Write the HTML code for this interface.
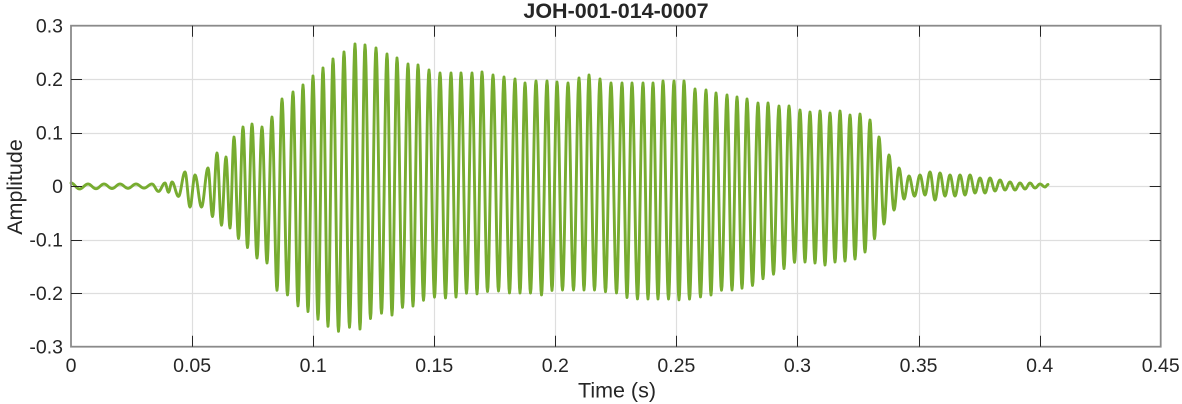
<!DOCTYPE html>
<html>
<head>
<meta charset="utf-8">
<style>
  html,body{margin:0;padding:0;background:#fff;}
  svg{display:block;}
  text{font-family:"Liberation Sans", Arial, sans-serif; fill:#262626;}
</style>
</head>
<body>
<svg id="chart" width="1182" height="404" viewBox="0 0 1182 404" xmlns="http://www.w3.org/2000/svg">
  <rect x="0" y="0" width="1182" height="404" fill="#fff"/>
  <g id="grid" stroke="#dedede" stroke-width="1.2" fill="none"></g>
  <path id="wave" fill="none" stroke="#77AC30" stroke-width="2.9" stroke-linejoin="round" stroke-linecap="round" d=""/>
  <rect x="71" y="25.7" width="1089.7" height="321" fill="none" stroke="#8a8a8a" stroke-width="1.8"/>
  <g id="ticks" stroke="#262626" stroke-width="1" fill="none"></g>
  <g id="labels" font-size="19.5"></g>
  <text x="616" y="18" font-size="21.5" font-weight="bold" text-anchor="middle">JOH-001-014-0007</text>
  <text x="617" y="397.5" font-size="21.5" text-anchor="middle">Time (s)</text>
  <text transform="translate(22,187) rotate(-90)" font-size="21.5" text-anchor="middle">Amplitude</text>
</svg>
<script>
(function(){
  var NS="http://www.w3.org/2000/svg";
  var X0=71, X1=1160.7, Y0=25.7, Y1=346.7;
  var grid=document.getElementById('grid'), ticks=document.getElementById('ticks'), labels=document.getElementById('labels');
  function line(g,x1,y1,x2,y2){var l=document.createElementNS(NS,'line');l.setAttribute('x1',x1);l.setAttribute('y1',y1);l.setAttribute('x2',x2);l.setAttribute('y2',y2);g.appendChild(l);}
  function txt(x,y,s,anchor){var t=document.createElementNS(NS,'text');t.setAttribute('x',x);t.setAttribute('y',y);t.setAttribute('text-anchor',anchor);t.textContent=s;labels.appendChild(t);}
  var xl=['0','0.05','0.1','0.15','0.2','0.25','0.3','0.35','0.4','0.45'];
  for(var i=0;i<10;i++){
    var x=X0+i*(X1-X0)/9; var xr=Math.round(x)+0.5;
    if(i>0&&i<9){line(grid,xr,Y0,xr,Y1);}
    if(i>0&&i<9){line(ticks,xr,Y1,xr,Y1-11);line(ticks,xr,Y0,xr,Y0+11);}
    txt(x,372,xl[i],'middle');
  }
  var yl=['0.3','0.2','0.1','0','-0.1','-0.2','-0.3'];
  for(var j=0;j<7;j++){
    var y=Y0+j*(Y1-Y0)/6; var yr=Math.round(y)+0.5;
    if(j>0&&j<6){line(grid,X0,yr,X1,yr);line(ticks,X0,yr,X0+11,yr);line(ticks,X1,yr,X1-11,yr);}
    txt(63,y+7,yl[j],'end');
  }
  var tops=[[71,183],[88,184],[104,184],[120,184],[136,184],[152,184],[165,183],[172,182],[185,172],[195,175],[208,168],[217,153],[226,157],[234,137],[243,127],[252,124],[262,127],[272,117],[282,99],[293,92],[303,85],[313,76],[323,68],[333,59],[344,52],[355,44],[365,45],[376,48],[387,54],[397,58],[408,64],[418,65],[429,70],[440,73],[451,73],[461,73],[472,73],[482,72],[493,75],[504,77],[515,79],[525,83],[536,81],[547,81],[557,82],[568,83],[579,78],[589,75],[600,79],[611,83],[622,83],[632,83],[643,83],[653,83],[663,81],[674,81],[684,81],[695,89],[706,90],[716,93],[727,95],[737,97],[747,99],[758,103],[768,103],[779,106],[789,106],[800,110],[810,112],[820,111],[830,113],[840,111],[850,115],[860,114],[870,120],[879,137],[889,155],[899,168],[909,176],[920,175],[930,172],[940,173],[950,175],[960,175],[970,175],[980,178],[990,178],[1000,180],[1010,182],[1020,183],[1030,183],[1040,184]];
  var bots=[[71,186],[76,189],[150,188],[160,192],[168,192],[180,197],[190,207],[203,207],[213,217],[221,225],[230,228],[238,238],[248,248],[257,258],[267,263],[278,293],[288,295],[299,307],[309,312],[319,320],[329,327],[340,332],[350,327],[360,329],[371,318],[382,313],[392,315],[403,307],[413,306],[424,300],[435,297],[446,298],[457,297],[467,293],[478,294],[489,291],[500,291],[510,293],[522,293],[532,293],[542,295],[553,290],[564,290],[574,290],[585,290],[596,290],[607,292],[617,293],[628,298],[638,299],[648,299],[659,299],[670,299],[680,300],[690,299],[700,297],[711,295],[722,290],[732,290],[743,288],[754,285],[764,278],[774,274],[785,268],[795,262],[806,262],[815,263],[825,265],[835,262],[845,261],[855,259],[865,252],[875,238],[884,224],[894,210],[904,199],[915,196],[925,195],[935,200],[945,196],[955,196],[965,195],[975,193],[985,193],[995,191],[1005,190],[1015,190],[1025,189],[1035,188],[1045,187]];
  function interp(arr,x){
    if(x<=arr[0][0])return arr[0][1];
    for(var k=1;k<arr.length;k++){if(x<=arr[k][0]){var a=arr[k-1],b=arr[k];return a[1]+(b[1]-a[1])*(x-a[0])/(b[0]-a[0]);}}
    return arr[arr.length-1][1];
  }
  var ext=[];
  for(var i=0;i<tops.length;i++){
    ext.push(tops[i]);
    if(i<tops.length-1){var m=(tops[i][0]+tops[i+1][0])/2;ext.push([m,interp(bots,m)]);}
  }
  ext.push([1045,187]);ext.push([1048,184.5]);
  var d='M'+ext[0][0]+' '+ext[0][1];
  for(var k=0;k<ext.length-1;k++){
    var a=ext[k],b=ext[k+1];var n=Math.max(2,Math.ceil((b[0]-a[0])*2));
    for(var s=1;s<=n;s++){var f=s/n;var x=a[0]+(b[0]-a[0])*f;var y=a[1]+(b[1]-a[1])*(1-Math.cos(Math.PI*f))/2;d+=' L'+x.toFixed(2)+' '+y.toFixed(2);}
  }
  document.getElementById('wave').setAttribute('d',d);
})();
</script>
</body>
</html>
